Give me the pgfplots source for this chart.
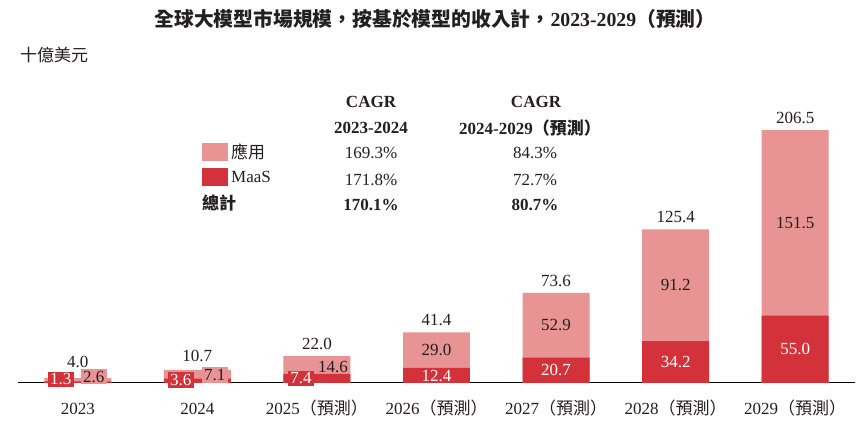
\documentclass[border=0pt]{standalone}
\usepackage{pgfplots}
\pgfplotsset{compat=1.18}
\usepackage{fontspec}
\setmainfont{Liberation Serif}
\newfontfamily\cjk{Noto Sans CJK TC}
\definecolor{appc}{RGB}{233,148,148}
\definecolor{maasc}{RGB}{212,50,58}
\definecolor{txt}{RGB}{35,31,32}
\newcommand{\fs}{\fontsize{17}{20}\selectfont}
\begin{document}
\begin{tikzpicture}
\useasboundingbox (0,0) rectangle (865pt,423pt);
\fill[white] (0,0) rectangle (865pt,423pt);
\begin{axis}[
  at={(18pt,40pt)}, anchor=south west,
  scale only axis, width=837pt, height=281.75pt,
  xmin=-0.5, xmax=6.5, ymin=0, ymax=230,
  axis x line*=bottom, axis y line=none,
  x axis line style={-, line width=1pt, black},
  xtick={0,...,6},
  xticklabels={2023,2024,{2025{\cjk （預測）}},{2026{\cjk （預測）}},{2027{\cjk （預測）}},{2028{\cjk （預測）}},{2029{\cjk （預測）}}},
  major tick length=0pt,
  xticklabel style={anchor=base, yshift=-32pt, font=\fs, text=txt},
  ytick=\empty,
  clip=false,
]
% bars
\addplot[ybar, bar width=0.56, bar shift=0pt, fill=appc, draw=none]
  coordinates {(0,4.0) (1,10.7) (2,22.0) (3,41.4) (4,73.6) (5,125.4) (6,206.5)};
\addplot[ybar, bar width=0.56, bar shift=0pt, fill=maasc, draw=none]
  coordinates {(0,1.3) (1,3.6) (2,7.4) (3,12.4) (4,20.7) (5,34.2) (6,55.0)};
% totals
\addplot[draw=none, nodes near coords, point meta=explicit symbolic,
  nodes near coords style={anchor=center, font=\fs, text=txt}]
  table[x=x, y=y, meta=l] {
x y l
0 17.1 4.0
1 22.0 10.7
2 31.8 22.0
3 51.2 41.4
4 83.4 73.6
5 135.2 125.4
6 216.3 206.5
};
% application labels (plain)
\addplot[draw=none, nodes near coords, point meta=explicit symbolic,
  nodes near coords style={anchor=center, font=\fs, text=txt}]
  table[x=x, y=y, meta=l] {
x y l
2.134 13.1 14.6
3 26.9 29.0
4 47.15 52.9
5 79.8 91.2
6 130.75 151.5
};
% MaaS labels (plain, white)
\addplot[draw=none, nodes near coords, point meta=explicit symbolic,
  nodes near coords style={anchor=center, font=\fs, text=white}]
  table[x=x, y=y, meta=l] {
x y l
3 6.0 12.4
4 10.35 20.7
5 17.1 34.2
6 27.5 55.0
};
% MaaS labels (boxed)
\addplot[draw=none, nodes near coords, point meta=explicit symbolic,
  nodes near coords style={anchor=center, font=\fs, text=white, fill=maasc, inner xsep=2.2pt, inner ysep=2pt}]
  table[x=x, y=y, meta=l] {
x y l
-0.142 2.9 1.3
0.862 2.4 3.6
1.866 3.7 7.4
};
% application labels (boxed)
\addplot[draw=none, nodes near coords, point meta=explicit symbolic,
  nodes near coords style={anchor=center, font=\fs, text=txt, fill=appc, inner xsep=2.2pt, inner ysep=2pt}]
  table[x=x, y=y, meta=l] {
x y l
0.134 5.3 2.6
1.146 6.5 7.1
};
\end{axis}
% title and unit
\node[text=txt, font=\bfseries\fontsize{19.8}{22}\selectfont] at (435pt,404pt)
  {{\cjk 全球大模型市場規模，按基於模型的收入計，}2023-2029{\cjk （預測）}};
\node[text=txt, anchor=west, font=\fs, inner sep=0pt] at (20pt,368pt) {\cjk 十億美元};
% CAGR table
\begin{scope}[every node/.style={text=txt, font=\fs}]
\node[font=\fs\bfseries] at (371pt,321pt) {CAGR};
\node[font=\fs\bfseries] at (371pt,295pt) {2023-2024};
\node[font=\fs\bfseries] at (536pt,321pt) {CAGR};
\node[font=\fs\bfseries] at (530pt,295pt) {2024-2029{\cjk （預測）}};
\fill[appc] (202pt,262pt) rectangle (228pt,280pt);
\fill[maasc] (202pt,237pt) rectangle (228pt,255pt);
\node[anchor=west, inner sep=0pt] at (231pt,271pt) {\cjk 應用};
\node[anchor=west, inner sep=0pt] at (231pt,246pt) {MaaS};
\node[anchor=west, inner sep=0pt, font=\fs\bfseries] at (202pt,220pt) {\cjk 總計};
\node at (371pt,270pt) {169.3\%};
\node at (535pt,270pt) {84.3\%};
\node at (371pt,243pt) {171.8\%};
\node at (535pt,243pt) {72.7\%};
\node[font=\fs\bfseries] at (371pt,218pt) {170.1\%};
\node[font=\fs\bfseries] at (535pt,218pt) {80.7\%};
\end{scope}
\end{tikzpicture}
\end{document}
